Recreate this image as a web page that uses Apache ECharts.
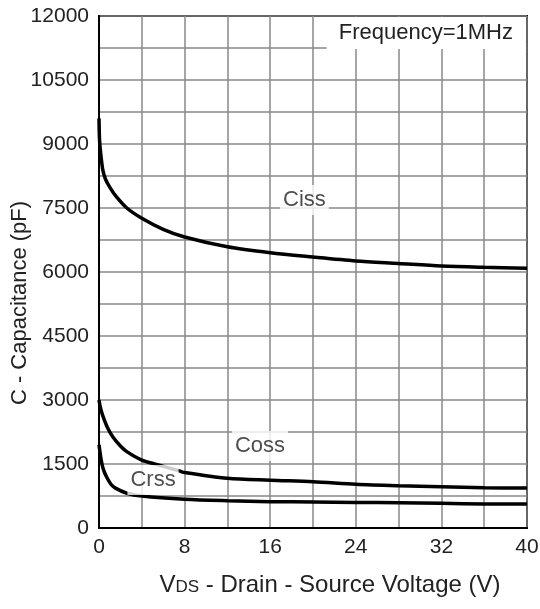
<!DOCTYPE html>
<html><head><meta charset="utf-8">
<script src="https://cdn.jsdelivr.net/npm/echarts@6/dist/echarts.min.js"></script>
<style>html,body{margin:0;padding:0;background:#fff}#c{width:540px;height:609px}</style>
</head><body><div id="c"></div>
<script>
const xTicks = [0, 8, 16, 24, 32, 40];
const yTicks = [0, 1500, 3000, 4500, 6000, 7500, 9000, 10500, 12000];
const cissV = [0, 0.05, 0.15, 0.35, 0.6, 1, 1.6, 2.6, 4, 6, 8, 12, 16, 20, 24, 28, 32, 36, 40];
const cissC = [9600, 9100, 8800, 8400, 8180, 7990, 7770, 7500, 7260, 7000, 6820, 6590, 6450, 6350, 6260, 6200, 6140, 6110, 6090];
const cossV = [0, 0.15, 0.4, 0.8, 1.3, 2, 2.6, 4, 5.2, 7.5, 8, 12, 16, 20, 24, 28, 32, 36, 40];
const cossC = [3000, 2800, 2600, 2350, 2130, 1920, 1790, 1590, 1500, 1340, 1300, 1165, 1120, 1085, 1025, 990, 965, 945, 935];
const crssV = [0, 0.2, 0.4, 0.7, 1.1, 1.5, 2.6, 4, 8, 12, 16, 20, 24, 28, 32, 36, 40];
const crssC = [1950, 1600, 1380, 1200, 1030, 940, 815, 750, 675, 640, 618, 612, 600, 590, 578, 565, 560];
const curveNames = ['Ciss', 'Coss', 'Crss'];
const labelPos = [[19.2, 7690], [15.05, 1920], [5.05, 1125]];
const freqText = 'Frequency=1MHz';

const zip = (a, b) => a.map((v, i) => [v, b[i]]);
const font = 'Liberation Sans, Arial, sans-serif';
const chart = echarts.init(document.getElementById('c'));
const lineS = (name, data) => ({
  name, type: 'line', data, smooth: 0.3, showSymbol: false, symbol: 'none',
  lineStyle: { color: '#000', width: 3.5 }, z: 3, animation: false
});
chart.setOption({
  animation: false,
  title: {
    text: freqText, right: 14, top: 17, backgroundColor: '#fff', padding: [5, 13, 5, 12],
    textStyle: { fontFamily: font, fontSize: 22, fontWeight: 'normal', color: '#222' }
  },
  grid: { left: 99, top: 16, right: 13, bottom: 81, show: true, borderColor: '#000', borderWidth: 2,
          containLabel: false, outerBoundsMode: 'none' },
  xAxis: {
    type: 'value', min: 0, max: 40, interval: 4,
    axisLine: { show: true, lineStyle: { color: '#000', width: 2 } },
    axisTick: { show: false },
    splitLine: { show: true, lineStyle: { color: '#888', width: 1.5 } },
    axisLabel: {
      margin: 9, fontFamily: font, fontSize: 21, color: '#222',
      formatter: v => xTicks.includes(v) ? String(v) : ''
    },
    name: '{v|V}{d|DS}{r| - Drain - Source Voltage (V)}',
    nameLocation: 'middle', nameGap: 45,
    nameTextStyle: {
      padding: [0, 0, 0, 34],
      rich: {
        v: { fontFamily: font, fontSize: 24, color: '#222' },
        d: { fontFamily: font, fontSize: 17, color: '#222', verticalAlign: 'bottom', padding: [0, 0, 1, 0] },
        r: { fontFamily: font, fontSize: 24, color: '#222' }
      }
    }
  },
  yAxis: {
    type: 'value', min: 0, max: 12000, interval: 750,
    axisLine: { show: true, lineStyle: { color: '#000', width: 2 } },
    axisTick: { show: false },
    splitLine: { show: true, lineStyle: { color: '#888', width: 1.5 } },
    axisLabel: {
      margin: 10, fontFamily: font, fontSize: 21, color: '#222',
      formatter: v => yTicks.includes(v) ? String(v) : ''
    },
    name: 'C - Capacitance (pF)', nameLocation: 'middle', nameGap: 68, nameMoveOverlap: false,
    nameTextStyle: { fontFamily: font, fontSize: 22, color: '#222', padding: [0, 62, 0, 0] }
  },
  series: [
    lineS(curveNames[0], zip(cissV, cissC)),
    lineS(curveNames[1], zip(cossV, cossC)),
    lineS(curveNames[2], zip(crssV, crssC)),
    {
      type: 'scatter', symbolSize: 0, z: 10, animation: false,
      data: curveNames.map((n, i) => ({ value: labelPos[i], name: n })),
      label: {
        show: true, position: 'inside', formatter: p => p.name,
        fontFamily: font, fontSize: 22, color: '#222', backgroundColor: '#fff',
        padding: [5, 3, 3, 3]
      }
    }
  ]
});
</script></body></html>
